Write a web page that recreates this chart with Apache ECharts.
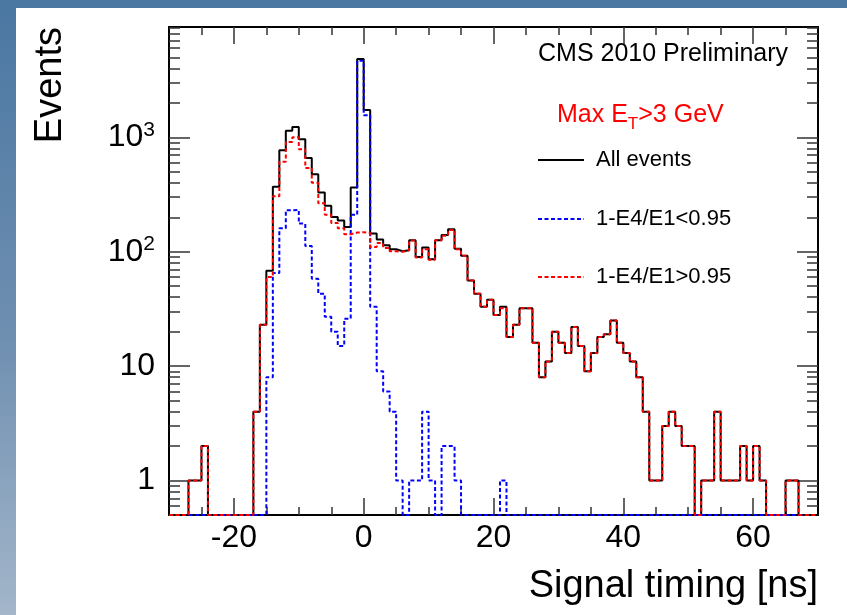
<!DOCTYPE html>
<html>
<head>
<meta charset="UTF-8">
<title>Signal timing</title>
<script src="https://cdn.jsdelivr.net/npm/echarts@6/dist/echarts.min.js"></script>
<style>
html,body{margin:0;padding:0;}
body{width:847px;height:615px;position:relative;overflow:hidden;
  background:linear-gradient(180deg,#4a77a2 0%,#6f8fb1 55%,#a3b6ca 100%);}
#panel{position:absolute;left:16px;top:8px;right:0;bottom:0;background:#fff;}
#main{position:absolute;left:0;top:0;width:847px;height:615px;}
</style>
</head>
<body>
<div id="panel"></div>
<div id="main"></div>
<script>
// low edge of each 1 ns bin, -30 .. 69
var binEdges = [
  -30,-29,-28,-27,-26,-25,-24,-23,-22,-21,
  -20,-19,-18,-17,-16,-15,-14,-13,-12,-11,
  -10,-9,-8,-7,-6,-5,-4,-3,-2,-1,
  0,1,2,3,4,5,6,7,8,9,
  10,11,12,13,14,15,16,17,18,19,
  20,21,22,23,24,25,26,27,28,29,
  30,31,32,33,34,35,36,37,38,39,
  40,41,42,43,44,45,46,47,48,49,
  50,51,52,53,54,55,56,57,58,59,
  60,61,62,63,64,65,66,67,68,69
];
var X_MAX = 70;

// All events
var allEvents = [
  0,0,0,1,1,2,0,0,0,0,
  0,0,0,4,23,68,370,770,1140,1230,
  960,660,476,329,252,201,187,164,364,4820,
  1730,144,128,114,105,101,103,126,90,109,
  86,126,140,157,106,92,56,43,33,38,
  28,33,18,23,32,32,16,8,11,20,
  16,13,22,15,9,13,18,19,25,16,
  13,11,8,4,1,1,3,4,3,2,
  2,0,1,1,4,1,1,1,2,1,
  2,1,0,0,0,1,1,0,0,0
];

// 1-E4/E1 < 0.95
var spikeLike = [
  0,0,0,0,0,0,0,0,0,0,
  0,0,0,0,0,8,65,160,230,232,
  176,112,58,43,27,20,15,26,210,4660,
  1560,33,9,6,4,1,0,1,1,4,
  1,0,2,2,1,0,0,0,0,0,
  0,1,0,0,0,0,0,0,0,0,
  0,0,0,0,0,0,0,0,0,0,
  0,0,0,0,0,0,0,0,0,0,
  0,0,0,0,0,0,0,0,0,0,
  0,0,0,0,0,0,0,0,0,0
];

// 1-E4/E1 > 0.95
var normalLike = [
  0,0,0,1,1,2,0,0,0,0,
  0,0,0,4,23,60,305,610,910,1000,
  785,540,400,265,210,178,160,142,147,148,
  146,110,119,108,101,100,103,125,89,105,
  85,126,138,155,105,92,56,43,33,38,
  28,32,18,23,32,32,16,8,11,20,
  16,13,22,15,9,13,18,19,25,16,
  13,11,8,4,1,1,3,4,3,2,
  2,0,1,1,4,1,1,1,2,1,
  2,1,0,0,0,1,1,0,0,0
];

var xMajor = [-20, 0, 20, 40, 60];
var xMinor = [-25,-15,-10,-5,5,10,15,25,30,35,45,50,55,65];
var yMajor = [1, 10, 100, 1000];
var yMinor = [0.6,0.7,0.8,0.9,2,3,4,5,6,7,8,9,20,30,40,50,60,70,80,90,
              200,300,400,500,600,700,800,900,2000,3000,4000,5000,6000,7000,8000,9000];
var Y_MIN = 0.5, Y_MAX = 9200;

var FONT = 'Liberation Sans, Arial, Helvetica, sans-serif';

// histogram outline: one point per bin low edge, empty bins sit on the axis floor
function stepPoints(vals) {
  var pts = [];
  for (var i = 0; i < binEdges.length; i++) {
    pts.push([binEdges[i], vals[i] > 0 ? vals[i] : Y_MIN]);
  }
  var last = vals[vals.length - 1];
  pts.push([X_MAX, last > 0 ? last : Y_MIN]);
  return pts;
}

var tickStyle = {color: '#333', width: 1.5};
var frameLine = {show: true, onZero: false, lineStyle: {color: '#000', width: 2}};
var noLine = {show: false, onZero: false};

function xAx(pos, ticks, len, withLine, withLabel) {
  return {
    type: 'value', position: pos, min: -30, max: 70,
    axisLine: withLine ? frameLine : noLine,
    axisTick: {show: true, inside: true, length: len, customValues: ticks, lineStyle: tickStyle},
    axisLabel: withLabel ? {
      show: true, customValues: ticks, fontSize: 32, color: '#000', fontFamily: FONT, margin: 7
    } : {show: false},
    splitLine: {show: false}
  };
}
function yAx(pos, ticks, len, withLine, withLabel) {
  return {
    type: 'log', logBase: 10, position: pos, min: Y_MIN, max: Y_MAX,
    axisLine: withLine ? frameLine : noLine,
    axisTick: {show: true, inside: true, length: len, customValues: ticks, lineStyle: tickStyle},
    axisLabel: withLabel ? {
      show: true, customValues: ticks, fontSize: 32, lineHeight: 36, color: '#000',
      fontFamily: FONT, margin: 14,
      formatter: function (v) {
        var p = Math.round(Math.log(v) / Math.LN10);
        if (p === 0) return '1';
        if (p === 1) return '10';
        return '10{sup|' + p + '}';
      },
      rich: {sup: {fontSize: 21, lineHeight: 18, verticalAlign: 'top', color: '#000', fontFamily: FONT}}
    } : {show: false},
    splitLine: {show: false}
  };
}

function histSeries(name, vals, color, dashed, z) {
  return {
    name: name, type: 'line', step: 'end', data: stepPoints(vals),
    xAxisIndex: 0, yAxisIndex: 0, symbol: 'none', showSymbol: false,
    lineStyle: {color: color, width: 2, type: dashed ? [4, 2.5] : 'solid'},
    itemStyle: {color: color}, z: z, clip: true, animation: false
  };
}

var legendBase = {
  orient: 'horizontal', left: 537, padding: 0, itemWidth: 46, itemHeight: 14,
  selectedMode: false,
  itemStyle: {opacity: 0},
  textStyle: {fontSize: 22, lineHeight: 24, color: '#000', fontFamily: FONT, padding: [0, 0, 0, 7]}
};

var chart = echarts.init(document.getElementById('main'), null, {renderer: 'canvas'});
chart.setOption({
  animation: false,
  backgroundColor: 'transparent',
  grid: {left: 169, right: 29, top: 27, bottom: 100, containLabel: false, outerBoundsMode: 'none'},
  xAxis: [
    xAx('bottom', xMajor, 17, true, true),
    xAx('bottom', xMinor, 8, false, false),
    xAx('top', xMajor, 17, true, false),
    xAx('top', xMinor, 8, false, false)
  ],
  yAxis: [
    yAx('left', yMajor, 21, true, true),
    yAx('left', yMinor, 11, false, false),
    yAx('right', yMajor, 21, true, false),
    yAx('right', yMinor, 11, false, false)
  ],
  legend: [
    Object.assign({}, legendBase, {top: 148, data: ['All events']}),
    Object.assign({}, legendBase, {top: 207, data: ['1-E4/E1<0.95']}),
    Object.assign({}, legendBase, {top: 265, data: ['1-E4/E1>0.95']})
  ],
  series: [
    histSeries('All events', allEvents, '#000000', false, 2),
    histSeries('1-E4/E1<0.95', spikeLike, '#0000ff', true, 3),
    histSeries('1-E4/E1>0.95', normalLike, '#ff0000', true, 4)
  ],
  graphic: [
    {type: 'text', x: 51, y: 27, rotation: Math.PI / 2,
      style: {text: 'Events', fontSize: 38, fontFamily: FONT, fill: '#000', align: 'right', verticalAlign: 'middle'}},
    {type: 'text', x: 818, y: 587,
      style: {text: 'Signal timing [ns]', fontSize: 38, fontFamily: FONT, fill: '#000', align: 'right', verticalAlign: 'middle'}},
    {type: 'text', x: 538, y: 54,
      style: {text: 'CMS 2010 Preliminary', fontSize: 25, fontFamily: FONT, fill: '#000', align: 'left', verticalAlign: 'middle'}},
    {type: 'text', x: 557, y: 115,
      style: {text: 'Max E{sub|T}>3 GeV', fontSize: 25, lineHeight: 36, fontFamily: FONT, fill: '#ff0000',
        align: 'left', verticalAlign: 'middle',
        rich: {sub: {fontSize: 17, lineHeight: 14, verticalAlign: 'bottom', fill: '#ff0000', fontFamily: FONT}}}}
  ]
});
</script>
</body>
</html>
